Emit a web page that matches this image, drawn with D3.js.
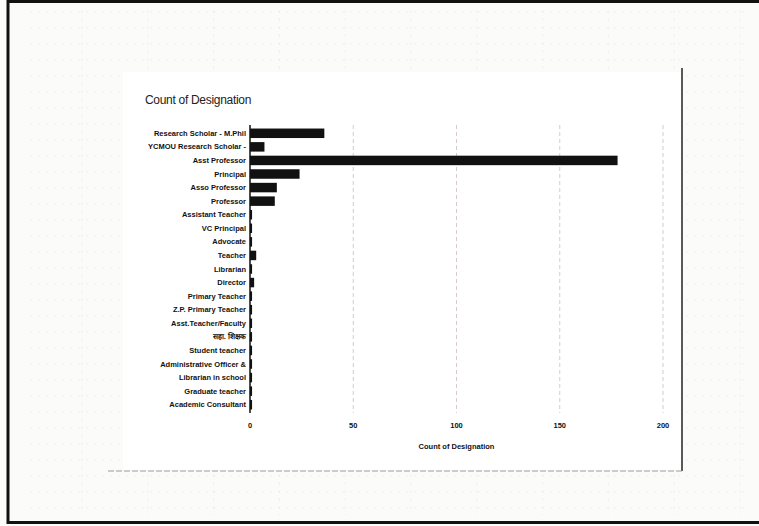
<!DOCTYPE html>
<html>
<head>
<meta charset="utf-8">
<script src="https://cdn.jsdelivr.net/npm/d3@7"></script>
<style>
  body { margin: 0; background: #fbfbfa; }
  svg { display: block; }
  .lbl { font-family: "Liberation Sans Narrow", "Liberation Sans", Arial, sans-serif; font-weight: bold; font-size: 7.5px; fill: #111; }
</style>
</head>
<body>
<svg width="759" height="526"></svg>
<script>
"use strict";

const designations = [
  "Research Scholar - M.Phil", "YCMOU Research Scholar -", "Asst Professor", "Principal",
  "Asso Professor", "Professor", "Assistant Teacher", "VC Principal", "Advocate", "Teacher",
  "Librarian", "Director", "Primary Teacher", "Z.P. Primary Teacher", "Asst.Teacher/Faculty",
  "सहा. शिक्षक", "Student teacher", "Administrative Officer &", "Librarian in school",
  "Graduate teacher", "Academic Consultant"
];
const counts = [36, 7, 178, 24, 13, 12, 1, 1, 1, 3, 1, 2, 1, 1, 1, 1, 1, 1, 1, 1, 1];
const xTicks = [0, 50, 100, 150, 200];
const chartTitle = "Count of Designation";
const axisTitle = "Count of Designation";

let svg = d3.select('svg');

// faint spreadsheet grid behind the chart
const bg = svg.append('g').attr('stroke', '#efe9e9').attr('stroke-width', 0.7);
d3.range(82, 759, 65.8).forEach(x => {
  bg.append('line').attr('x1', x).attr('x2', x).attr('y1', 10).attr('y2', 515).attr('stroke-dasharray', '3,5');
});
d3.range(12, 520, 16).forEach(y => {
  bg.append('line').attr('x1', 30).attr('x2', 745).attr('y1', y).attr('y2', y).attr('stroke-dasharray', '2,6');
});

// outer page frame
svg.append('rect')
   .attr('x', 8).attr('y', 1.5).attr('width', 760).attr('height', 521)
   .attr('fill', 'none').attr('stroke', '#111').attr('stroke-width', 3);

// chart area
svg.append('rect')
   .attr('x', 123).attr('y', 72).attr('width', 559).attr('height', 399)
   .attr('fill', '#fff');
svg.append('line')  // right edge of chart
   .attr('x1', 682).attr('x2', 682).attr('y1', 68).attr('y2', 471)
   .attr('stroke', '#222').attr('stroke-width', 1.5);
svg.append('line')  // bottom edge
   .attr('x1', 108).attr('x2', 682).attr('y1', 471).attr('y2', 471)
   .attr('stroke', '#999').attr('stroke-width', 1.2).attr('stroke-dasharray', '6,2');

svg.append('text')
   .attr('x', 145).attr('y', 104)
   .attr('font-family', 'Liberation Sans, Arial, sans-serif')
   .attr('font-size', 12).attr('fill', '#222')
   .attr('letter-spacing', -0.3)
   .text(chartTitle);

const x = d3.scaleLinear().domain([0, 200]).range([250, 663]);
const y = d3.scaleBand().domain(designations).range([126.5, 411.5]).paddingInner(0.3).paddingOuter(0.15);

// vertical gridlines
svg.append('g')
   .selectAll('line')
   .data(xTicks.slice(1))
   .enter()
   .append('line')
   .attr('x1', d => x(d)).attr('x2', d => x(d))
   .attr('y1', 125).attr('y2', 413)
   .attr('stroke', '#cbbcbc').attr('stroke-width', 0.8).attr('stroke-dasharray', '4,3');

// bars
svg.append('g')
   .selectAll('rect')
   .data(designations)
   .enter()
   .append('rect')
   .attr('x', x(0))
   .attr('y', d => y(d))
   .attr('width', (d, i) => x(counts[i]) - x(0))
   .attr('height', y.bandwidth())
   .attr('fill', '#111');

// category labels
svg.append('g')
   .selectAll('text')
   .data(designations)
   .enter()
   .append('text')
   .attr('class', 'lbl')
   .attr('x', 246)
   .attr('y', d => y(d) + y.bandwidth() / 2)
   .attr('dy', '0.35em')
   .attr('text-anchor', 'end')
   .text(d => d);

// y axis line
svg.append('line')
   .attr('x1', x(0)).attr('x2', x(0)).attr('y1', 125).attr('y2', 413)
   .attr('stroke', '#111').attr('stroke-width', 1.5);

// x axis tick labels
svg.append('g')
   .selectAll('text')
   .data(xTicks)
   .enter()
   .append('text')
   .attr('class', 'lbl')
   .attr('x', d => x(d))
   .attr('y', 428)
   .attr('text-anchor', 'middle')
   .text(d => d);

svg.append('text')
   .attr('class', 'lbl')
   .attr('x', x(100)).attr('y', 449)
   .attr('text-anchor', 'middle')
   .text(axisTitle);
</script>
</body>
</html>
